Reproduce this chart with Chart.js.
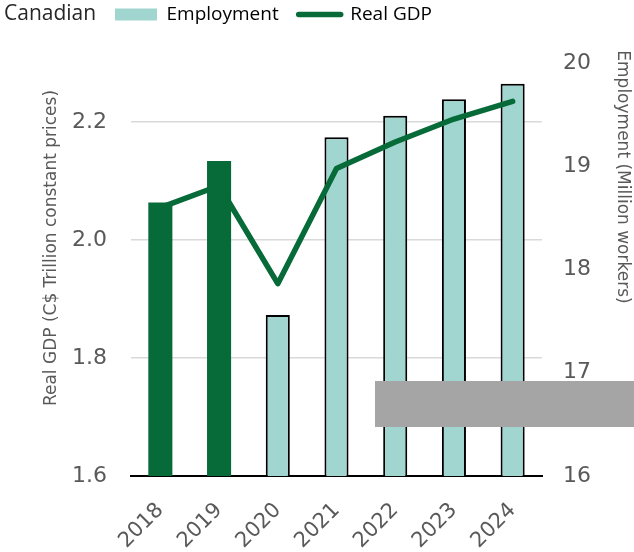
<!DOCTYPE html>
<html>
<head>
<meta charset="utf-8">
<script src="https://cdn.jsdelivr.net/npm/chart.js@4/dist/chart.umd.min.js"></script>
<style>
  body { margin: 0; background: #fff; }
</style>
</head>
<body>
<canvas id="jobsGdp" width="634" height="552"></canvas>
<script>
// years on the x axis
const years = ['2018', '2019', '2020', '2021', '2022', '2023', '2024'];
// employment, million workers (right axis)
const employment = [18.65, 19.05, 17.56, 19.28, 19.49, 19.65, 19.80];
// real GDP, C$ trillion constant prices (left axis)
const realGdp = [2.055, 2.092, 1.926, 2.121, 2.166, 2.205, 2.235];
// the first two years are actuals, drawn in the darker green
const actualYears = ['2018', '2019'];

const gdpTicks = [1.6, 1.8, 2.0, 2.2];
const empTicks = [16, 17, 18, 19, 20];

const DARK = '#066b38';
const TEAL = '#a0d5d0';
const GREY_TXT = '#595959';

Chart.defaults.font.family = 'DejaVu Sans';
Chart.defaults.color = GREY_TXT;

// header text, axis titles and the grey box on the lower right
const extras = {
  id: 'extras',
  afterLayout(chart) {
    const lg = chart.legend;
    lg.left = 95;
    lg.top = -15;
  },
  afterDraw(chart) {
    const ctx = chart.ctx;
    ctx.save();
    ctx.textBaseline = 'middle';
    ctx.fillStyle = '#262626';
    ctx.font = '21px "Open Sans"';
    ctx.textAlign = 'left';
    ctx.fillText('Canadian', 4, 14);

    ctx.fillStyle = GREY_TXT;
    ctx.font = '17px "DejaVu Sans"';
    ctx.textAlign = 'center';
    ctx.save();
    ctx.translate(52, 248);
    ctx.rotate(-Math.PI / 2);
    ctx.fillText('Real GDP (C$ Trillion constant prices)', 0, 0);
    ctx.restore();
    ctx.save();
    ctx.translate(622, 177);
    ctx.rotate(Math.PI / 2);
    ctx.fillText('Employment (Million workers)', 0, 0);
    ctx.restore();

    ctx.fillStyle = '#a5a5a5';
    ctx.fillRect(375, 381, 259, 46);
    ctx.restore();
  }
};

new Chart(document.getElementById('jobsGdp').getContext('2d'), {
  data: {
    labels: years,
    datasets: [{
      type: 'line',
      label: 'Real GDP',
      data: realGdp,
      yAxisID: 'y',
      borderColor: DARK,
      borderWidth: 5.5,
      borderCapStyle: 'round',
      borderJoinStyle: 'round',
      pointRadius: 0,
      tension: 0,
      order: 0
    }, {
      type: 'bar',
      label: 'Employment',
      data: employment,
      yAxisID: 'y1',
      backgroundColor: c => actualYears.includes(years[c.dataIndex]) ? DARK : TEAL,
      borderColor: '#000',
      borderWidth: c => actualYears.includes(years[c.dataIndex]) ? 0 : 2,
      barPercentage: 0.41,
      categoryPercentage: 1,
      order: 1
    }]
  },
  options: {
    responsive: false,
    animation: false,
    layout: { padding: { top: 14, left: 0, right: 0, bottom: 0 } },
    plugins: {
      tooltip: { enabled: false },
      legend: {
        position: 'top',
        align: 'start',
        labels: {
          usePointStyle: true,
          pointStyleWidth: 42,
          boxHeight: 12,
          padding: 20,
          color: GREY_TXT,
          font: { family: 'Open Sans', size: 19 },
          generateLabels: () => [
            { text: 'Employment', fillStyle: TEAL, strokeStyle: 'rgba(0,0,0,0)', lineWidth: 0, pointStyle: 'rect', datasetIndex: 1 },
            { text: 'Real GDP', fillStyle: DARK, strokeStyle: DARK, lineWidth: 5.5, lineCap: 'round', pointStyle: 'line', datasetIndex: 0 }
          ]
        }
      }
    },
    scales: {
      x: {
        grid: { display: false, drawTicks: false },
        border: { display: true, color: '#000', width: 2 },
        ticks: { minRotation: 45, maxRotation: 45, padding: 22, font: { size: 21 }, color: GREY_TXT },
        afterFit: s => { s.height = 76; }
      },
      y: {
        position: 'left',
        min: 1.6,
        max: 2.3,
        afterBuildTicks: s => { s.ticks = gdpTicks.map(v => ({ value: v })); },
        grid: {
          drawTicks: false,
          lineWidth: 1.5,
          color: c => c.tick && c.tick.value > 1.65 ? '#d9d9d9' : 'rgba(0,0,0,0)'
        },
        border: { display: false },
        ticks: { padding: 24, font: { size: 22 }, color: GREY_TXT, callback: v => Number(v).toFixed(1) },
        afterFit: s => { s.width = 131; }
      },
      y1: {
        position: 'right',
        min: 16,
        max: 20,
        afterBuildTicks: s => { s.ticks = empTicks.map(v => ({ value: v })); },
        grid: { display: false, drawTicks: false },
        border: { display: false },
        ticks: { padding: 21, font: { size: 22 }, color: GREY_TXT },
        afterFit: s => { s.width = 92; }
      }
    }
  },
  plugins: [extras]
});
</script>
</body>
</html>
